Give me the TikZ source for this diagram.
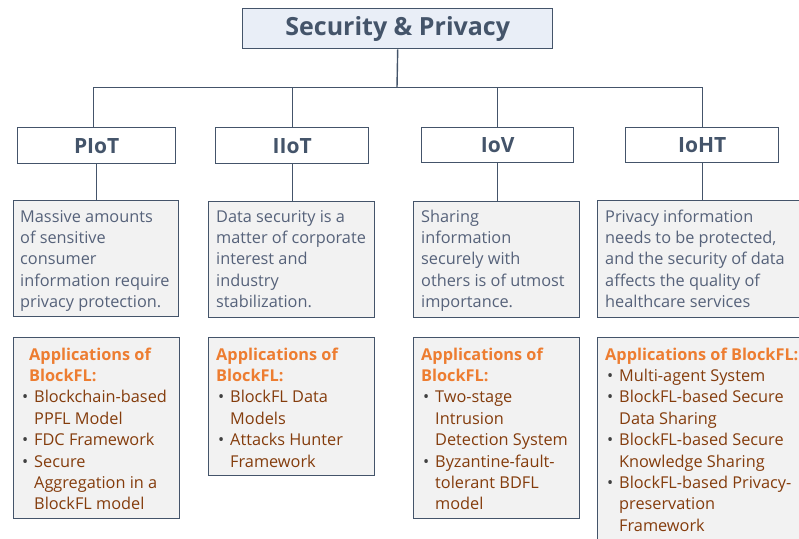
\documentclass[tikz,border=0pt]{standalone}
\usepackage{fontspec}
\setmainfont{Open Sans}
\definecolor{slate}{HTML}{44546A}
\definecolor{boxgray}{HTML}{F2F2F2}
\definecolor{titlefill}{HTML}{E9EEF7}
\definecolor{desccol}{HTML}{56627A}
\definecolor{headcol}{HTML}{ED7D31}
\definecolor{itemcol}{HTML}{843C0C}
\definecolor{bulletcol}{HTML}{404040}
\newcommand{\hd}[1]{\textcolor{headcol}{\bfseries #1}}
\newcommand{\itm}[1]{\makebox[12pt][l]{\textcolor{bulletcol}{\textbullet}}\textcolor{itemcol}{#1}}
\newcommand{\cnt}[1]{\hspace*{12pt}\textcolor{itemcol}{#1}}
\begin{document}
\begin{tikzpicture}[x=1pt,y=-1pt,
 frame/.style={draw=slate,line width=1.4pt,anchor=north west,inner sep=0pt},
 titlebox/.style={frame,fill=titlefill,text=slate,font=\fontsize{25pt}{29pt}\selectfont\bfseries},
 catbox/.style={frame,fill=white,text=slate,font=\fontsize{21pt}{25pt}\selectfont\bfseries},
 graybox/.style={frame,fill=boxgray},
 txt/.style={anchor=north west,inner sep=0pt,align=left,font=\fontsize{16.3pt}{21.4pt}\selectfont},
 desctxt/.style={txt,text=desccol},
 link/.style={draw=slate,line width=1.4pt}]
\useasboundingbox (0,0) rectangle (799,538);
\clip (0,0) rectangle (799,538);

% title
\node[titlebox,minimum width=310pt,minimum height=40pt] (T) at (242,8) {Security \& Privacy};

% categories
\node[catbox,minimum width=158pt,minimum height=36pt] (P) at (17,127) {PIoT};
\node[catbox,minimum width=153pt,minimum height=36pt] (I) at (215,127) {IIoT};
\node[catbox,minimum width=152pt,minimum height=35pt] (V) at (421,127) {IoV};
\node[catbox,minimum width=153pt,minimum height=35pt] (H) at (625,127) {IoHT};

% description boxes
\node[graybox,minimum width=165pt,minimum height=116pt] (dP) at (13,200) {};
\node[graybox,minimum width=166pt,minimum height=116pt] (dI) at (208,201) {};
\node[graybox,minimum width=166pt,minimum height=116pt] (dV) at (413,201) {};
\node[graybox,minimum width=220pt,minimum height=117pt] (dH) at (597,200) {};

% application boxes
\node[graybox,minimum width=166pt,minimum height=181pt] (aP) at (13,337) {};
\node[graybox,minimum width=166pt,minimum height=138pt] (aI) at (208,337) {};
\node[graybox,minimum width=166pt,minimum height=181pt] (aV) at (413,337) {};
\node[graybox,minimum width=220pt,minimum height=220pt] (aH) at (597,337) {};

% connectors
\coordinate (bar) at (397,87.5);
\draw[link] (T.south) -- (bar);
\draw[link] (bar) -| ([xshift=-3pt]P.north);
\draw[link] (bar) -| (I.north);
\draw[link] (bar) -| (V.north);
\draw[link] (bar) -| (H.north);
\draw[link] (P.south) -- (P.south |- dP.north);
\draw[link] (I.south) -- (I.south |- dI.north);
\draw[link] (V.south) -- (V.south |- dV.north);
\draw[link] (H.south) -- (H.south |- dH.north);

% description texts
\node[desctxt] (tP) at (20,207) {\strut Massive amounts\\of sensitive\\consumer\\information require\\privacy protection.};
\node[desctxt] (tI) at (216,207) {\strut Data security is a\\matter of corporate\\interest and\\industry\\stabilization.};
\node[desctxt] (tV) at (421,207) {\strut Sharing\\information\\securely with\\others is of utmost\\importance.};
\node[desctxt] (tH) at (605,207) {\strut Privacy information\\needs to be protected,\\and the security of data\\affects the quality of\\healthcare services};

% application texts
\node[txt] (uP) at (22,345) {\strut\hspace*{7pt}\hd{Applications of}\\\hspace*{7pt}\hd{BlockFL:}\\\itm{Blockchain-based}\\\cnt{PPFL Model}\\\itm{FDC Framework}\\\itm{Secure}\\\cnt{Aggregation in a}\\\cnt{BlockFL model}};
\node[txt] (uI) at (216,345) {\strut\hd{Applications of}\\\hd{BlockFL:}\\\hspace*{2pt}\itm{BlockFL Data}\\\hspace*{2pt}\cnt{Models}\\\hspace*{2pt}\itm{Attacks Hunter}\\\hspace*{2pt}\cnt{Framework}};
\node[txt] (uV) at (421,345) {\strut\hd{Applications of}\\\hd{BlockFL:}\\\hspace*{2pt}\itm{Two-stage}\\\hspace*{2pt}\cnt{Intrusion}\\\hspace*{2pt}\cnt{Detection System}\\\hspace*{2pt}\itm{Byzantine-fault-}\\\hspace*{2pt}\cnt{tolerant BDFL}\\\hspace*{2pt}\cnt{model}};
\node[txt] (uH) at (605,345) {\strut\hd{Applications of BlockFL:}\\\hspace*{2pt}\itm{Multi-agent System}\\\hspace*{2pt}\itm{BlockFL-based Secure}\\\hspace*{2pt}\cnt{Data Sharing}\\\hspace*{2pt}\itm{BlockFL-based Secure}\\\hspace*{2pt}\cnt{Knowledge Sharing}\\\hspace*{2pt}\itm{BlockFL-based Privacy-}\\\hspace*{2pt}\cnt{preservation}\\\hspace*{2pt}\cnt{Framework}};
\end{tikzpicture}
\end{document}
